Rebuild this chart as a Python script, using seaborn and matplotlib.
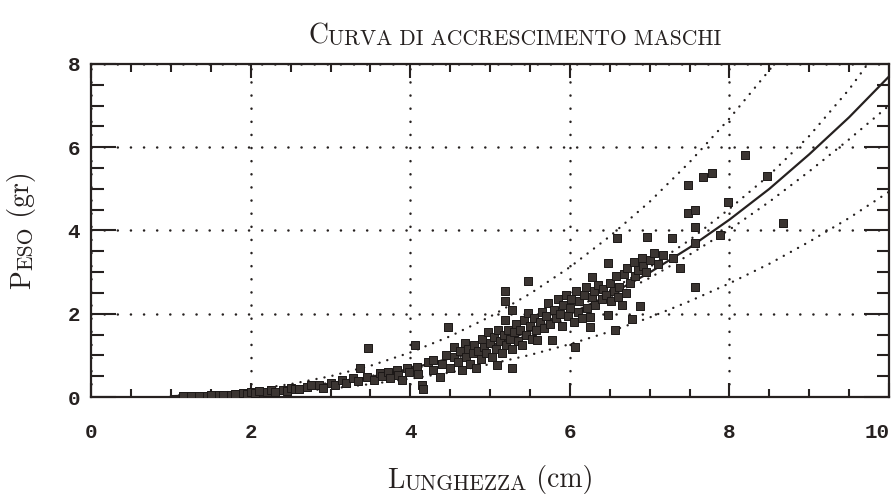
import matplotlib
matplotlib.use("Agg")
import matplotlib.pyplot as plt
from matplotlib.ticker import MultipleLocator
from matplotlib.transforms import ScaledTranslation
import seaborn as sns

# Curva stimata peso-lunghezza e relative bande (campionate ogni 0.5 cm)
lunghezza_curva = [1.0, 1.5, 2.0, 2.5, 3.0, 3.5, 4.0, 4.5, 5.0, 5.5,
                   6.0, 6.5, 7.0, 7.5, 8.0, 8.5, 9.0, 9.5, 10.0]
peso_stima = [0.02, 0.05, 0.11, 0.20, 0.32, 0.48, 0.68, 0.93, 1.23, 1.58,
              1.99, 2.46, 2.99, 3.59, 4.26, 5.00, 5.83, 6.72, 7.70]
peso_conf_sup = [0.02, 0.06, 0.12, 0.21, 0.34, 0.50, 0.71, 0.97, 1.28, 1.64,
                 2.07, 2.56, 3.12, 3.77, 4.52, 5.33, 6.27, 7.39, 8.70]
peso_conf_inf = [0.015, 0.045, 0.10, 0.18, 0.30, 0.46, 0.65, 0.89, 1.18, 1.52,
                 1.91, 2.37, 2.86, 3.42, 4.02, 4.69, 5.42, 6.19, 7.00]
peso_pred_sup = [0.03, 0.08, 0.17, 0.31, 0.50, 0.75, 1.07, 1.46, 1.93, 2.48,
                 3.12, 3.86, 4.69, 5.64, 6.69, 7.85, 9.15, 10.5, 12.1]
peso_pred_inf = [0.01, 0.03, 0.07, 0.13, 0.20, 0.31, 0.44, 0.59, 0.79, 1.01,
                 1.27, 1.57, 1.91, 2.30, 2.73, 3.20, 3.73, 4.30, 4.93]

# Esemplari maschi misurati
lunghezza = [
    1.15, 1.25, 1.35, 1.45, 1.50, 1.60, 1.65, 1.75, 1.80, 1.90, 1.95, 2.00, 2.05,
    2.10, 2.20, 2.25, 2.30, 2.40, 2.45, 2.50, 2.55, 2.60, 2.70, 2.75, 2.85, 2.90,
    3.00, 3.05,
    3.15, 3.20, 3.28, 3.35, 3.37, 3.47, 3.46, 3.55, 3.62, 3.65, 3.72, 3.75, 3.83,
    3.85, 3.90, 3.96, 3.98, 4.06, 4.08, 4.10, 4.15, 4.16,
    4.22, 4.29, 4.29, 4.37, 4.40, 4.45, 4.47, 4.50, 4.55, 4.55, 4.60, 4.62, 4.65,
    4.68, 4.70, 4.72, 4.75, 4.78, 4.80, 4.82, 4.85, 4.88, 4.90, 4.92, 4.95, 4.98,
    5.00, 5.02, 5.05, 5.08, 5.09, 5.10, 5.12, 5.15, 5.18, 5.19, 5.19, 5.19, 5.20,
    5.22, 5.25, 5.27, 5.27, 5.28, 5.30, 5.32, 5.35, 5.38, 5.40, 5.42, 5.45, 5.48,
    5.48, 5.50, 5.52, 5.55, 5.58, 5.59,
    5.62, 5.65, 5.68, 5.70, 5.72, 5.75, 5.78, 5.80, 5.82, 5.85, 5.88, 5.90, 5.92,
    5.95, 5.98, 6.00, 6.02, 6.05, 6.07, 6.08, 6.10, 6.12, 6.15, 6.18, 6.20, 6.22,
    6.25, 6.25, 6.28, 6.28, 6.30, 6.32, 6.35,
    6.40, 6.42, 6.45, 6.48, 6.48, 6.50, 6.52, 6.55, 6.57, 6.58, 6.59, 6.60, 6.62,
    6.65, 6.68, 6.70, 6.72, 6.75, 6.78, 6.80, 6.82, 6.85, 6.88, 6.90, 6.92, 6.95,
    6.97, 7.00, 7.05, 7.10, 7.17,
    7.28, 7.29, 7.38, 7.48, 7.48, 7.57, 7.57, 7.57, 7.57, 7.67, 7.78, 7.88, 7.98,
    8.20, 8.47, 8.67,
]
peso = [
    0.02, 0.02, 0.03, 0.03, 0.05, 0.04, 0.06, 0.06, 0.08, 0.09, 0.07, 0.12, 0.10,
    0.14, 0.12, 0.16, 0.13, 0.18, 0.15, 0.22, 0.19, 0.20, 0.24, 0.28, 0.29, 0.22,
    0.34, 0.30,
    0.41, 0.33, 0.45, 0.38, 0.70, 1.18, 0.48, 0.42, 0.58, 0.50, 0.60, 0.45, 0.65,
    0.52, 0.40, 0.70, 0.60, 1.25, 0.72, 0.55, 0.30, 0.20,
    0.85, 0.65, 0.90, 0.48, 0.80, 1.00, 1.68, 0.70, 0.95, 1.20, 0.85, 1.10, 0.65,
    1.30, 0.95, 1.15, 0.80, 1.05, 1.25, 0.70, 1.10, 0.92, 1.40, 1.20, 1.05, 1.55,
    1.30, 0.95, 1.45, 1.15, 0.77, 1.60, 1.35, 1.05, 1.50, 1.85, 2.30, 2.55, 1.25,
    1.62, 1.40, 0.70, 2.09, 1.15, 1.55, 1.75, 1.35, 1.62, 1.25, 1.85, 1.50, 2.02,
    2.79, 1.70, 1.40, 1.90, 1.60, 1.37,
    1.80, 2.05, 1.65, 1.95, 2.25, 1.75, 1.37, 2.10, 1.90, 2.35, 2.00, 1.70, 2.20,
    2.45, 1.95, 2.15, 2.35, 1.80, 1.20, 2.55, 2.05, 2.30, 1.90, 2.45, 2.65, 2.15,
    1.68, 1.92, 2.88, 2.40, 2.55, 2.20, 2.70,
    2.35, 2.60, 2.45, 3.22, 1.97, 2.75, 2.30, 2.55, 1.61, 2.90, 3.82, 2.40, 2.65,
    2.20, 2.95, 2.50, 3.10, 2.75, 1.88, 3.25, 2.90, 3.05, 2.19, 3.35, 3.15, 3.00,
    3.85, 3.30, 3.45, 3.20, 3.41,
    3.82, 3.34, 3.10, 5.10, 4.42, 4.50, 4.09, 3.70, 2.64, 5.29, 5.38, 3.89, 4.69,
    5.82, 5.30, 4.18,
]

x_ticks = [0, 2, 4, 6, 8, 10]
y_ticks = [0, 2, 4, 6, 8]

ink = "#262120"

sns.set_theme(style="ticks")
plt.rcParams["font.family"] = ["DejaVu Sans"]

fig = plt.figure(figsize=(8.94, 4.98), dpi=100, facecolor="white")
ax = fig.add_axes([0.102, 0.2028, 0.8924, 0.6687])
ax.set_facecolor("white")

dotted_band = (0, (0.05, 3.4))
band_style = dict(color=ink, linewidth=1.7, linestyle=dotted_band,
                  dash_capstyle="round")
sns.lineplot(x=lunghezza_curva, y=peso_pred_sup, ax=ax, **band_style)
sns.lineplot(x=lunghezza_curva, y=peso_pred_inf, ax=ax, **band_style)
sns.lineplot(x=lunghezza_curva, y=peso_conf_sup, ax=ax, **band_style)
sns.lineplot(x=lunghezza_curva, y=peso_conf_inf, ax=ax, **band_style)
sns.lineplot(x=lunghezza_curva, y=peso_stima, ax=ax, color=ink, linewidth=1.6)

sns.scatterplot(x=lunghezza, y=peso, ax=ax, marker="s", s=40,
                color="#3b3532", edgecolor="#1c1817", linewidth=0.7, zorder=3)

ax.set_xlim(0, 10)
ax.set_ylim(0, 8)
ax.set_xticks(x_ticks)
ax.set_yticks(y_ticks)
ax.set_xticklabels([str(v) for v in x_ticks])
ax.set_yticklabels([str(v) for v in y_ticks])
ax.xaxis.set_minor_locator(MultipleLocator(0.5))
ax.yaxis.set_minor_locator(MultipleLocator(0.5))
ax.set_xlabel("")
ax.set_ylabel("")

ax.grid(True, which="major", color=ink, linewidth=1.8,
        linestyle=(0, (0.05, 5.2)), dash_capstyle="round")
ax.set_axisbelow(True)

for side in ["left", "right", "top", "bottom"]:
    ax.spines[side].set_visible(True)
    ax.spines[side].set_linewidth(1.6)
    ax.spines[side].set_color(ink)

ax.tick_params(which="both", direction="in", top=True, right=True,
               color=ink, width=1.5)
ax.tick_params(axis="x", which="major", length=10, pad=19)
ax.tick_params(axis="x", which="minor", length=6)
ax.tick_params(axis="y", which="major", length=18, pad=8)
ax.tick_params(axis="y", which="minor", length=9)
for lab in ax.get_xticklabels() + ax.get_yticklabels():
    lab.set_family("Liberation Mono")
    lab.set_fontsize(15)
    lab.set_weight("bold")
    lab.set_color(ink)

# the last x label sits against the right border: keep it inside the figure
last = ax.get_xticklabels()[-1]
last.set_transform(last.get_transform()
                   + ScaledTranslation(-12 / 100, 0, fig.dpi_scale_trans))


def small_caps(pieces, x, y, rotation=0):
    """Place a label built from (text, size) pieces, chained one after another."""
    if rotation == 0:
        first = fig.text(x, y, pieces[0][0], fontsize=pieces[0][1], family="cmr10",
                         color=ink, ha="left", va="bottom")
        prev = first
        for s, size in pieces[1:]:
            prev = ax.annotate(s, xy=(1, 0), xycoords=prev, fontsize=size,
                               family="cmr10", color=ink, ha="left", va="bottom",
                               annotation_clip=False)
    else:
        first = fig.text(x, y, pieces[0][0], fontsize=pieces[0][1], family="cmr10",
                         color=ink, ha="right", va="bottom", rotation=90)
        prev = first
        for s, size in pieces[1:]:
            prev = ax.annotate(s, xy=(1, 1), xycoords=prev, fontsize=size,
                               family="cmr10", color=ink, ha="right", va="bottom",
                               rotation=90, annotation_clip=False)
    return first, prev


W, H = fig.get_size_inches() * fig.dpi

title = small_caps([("C", 20), ("URVA DI ACCRESCIMENTO MASCHI", 15.5)],
                   0.34, 1 - 49 / H)
xlab = small_caps([("L", 20), ("UNGHEZZA", 15.5), (" (cm)", 20)],
                  0.42, 4 / H)
ylab = small_caps([("P", 20), ("ESO", 15.5), (" (gr)", 20)],
                  36 / W, 0.45, rotation=90)

# centre each composed label on its target position
fig.canvas.draw()
renderer = fig.canvas.get_renderer()
for (first, last_piece), centre, rot in [(title, 515, 0), (xlab, 490, 0),
                                         (ylab, 230, 90)]:
    b0 = first.get_window_extent(renderer)
    b1 = last_piece.get_window_extent(renderer)
    px, py = first.get_position()
    if rot == 0:
        mid = (b0.x0 + b1.x1) / 2
        first.set_position((px + (centre - mid) / W, py))
    else:
        mid_from_top = H - (b0.y0 + b1.y1) / 2
        first.set_position((px, py - (centre - mid_from_top) / H))

fig.savefig("out.png", dpi=100, facecolor="white")
